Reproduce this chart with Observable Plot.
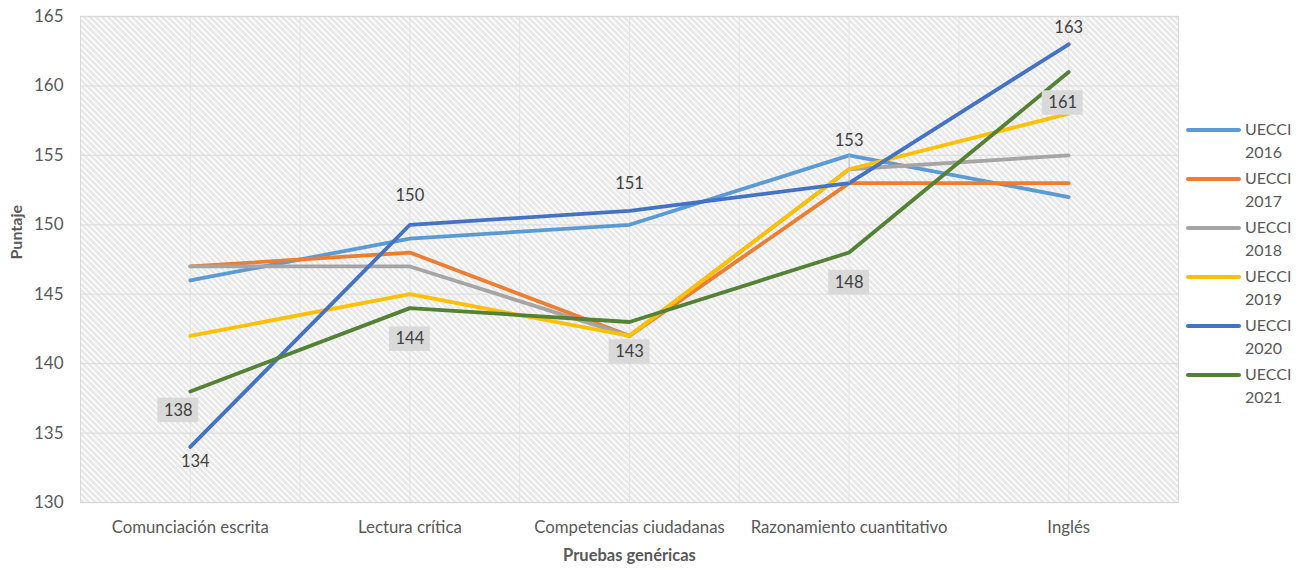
<!DOCTYPE html>
<html>
<head>
<meta charset="utf-8">
<script src="https://cdn.jsdelivr.net/npm/d3@7"></script>
<script src="https://cdn.jsdelivr.net/npm/@observablehq/plot@0.6"></script>
<style>
  body { margin: 0; background: #fff; }
  #wrap { position: relative; width: 1300px; height: 570px; font-family: Lato, "Open Sans", sans-serif; }
  #legend { position: absolute; left: 1186px; top: 117px; }
  .item { position: relative; height: 49px; }
  .item .sw { position: absolute; left: 0; top: 11px; width: 55px; height: 4px; border-radius: 2px; }
  .item .lab { position: absolute; left: 59px; top: 0; font-size: 16px; line-height: 23px; color: #595959; }
</style>
</head>
<body>
<div id="wrap"></div>
<script>
const categories = ["Comunciación escrita", "Lectura crítica", "Competencias ciudadanas", "Razonamiento cuantitativo", "Inglés"];
const seriesNames = ["UECCI 2016", "UECCI 2017", "UECCI 2018", "UECCI 2019", "UECCI 2020", "UECCI 2021"];
const v2016 = [146, 149, 150, 155, 152];
const v2017 = [147, 148, 142, 153, 153];
const v2018 = [147, 147, 142, 154, 155];
const v2019 = [142, 145, 142, 154, 158];
const v2020 = [134, 150, 151, 153, 163];
const v2021 = [138, 144, 143, 148, 161];
const seriesColors = ["#5B9BD5", "#ED7D31", "#A5A5A5", "#FFC000", "#4472C4", "#548235"];
const yTicks = [130, 135, 140, 145, 150, 155, 160, 165];

const allValues = [v2016, v2017, v2018, v2019, v2020, v2021];
const rows = [];
seriesNames.forEach((s, k) => allValues[k].forEach((v, i) => rows.push({s, i, v})));

// label placement (pixels) for the two labelled series
const blueOff = [[5, 15], [0, -29], [0, -27], [0, -42], [0, -17]];
const greenOff = [[-12, 19], [0, 31], [0, 30], [0, 30], [-6, 31]];

const labelMarks = [];
v2020.forEach((v, i) => {
  const [dx, dy] = blueOff[i];
  labelMarks.push(Plot.text([{i, v}], {x: "i", y: "v", text: d => String(d.v), dx, dy, fontSize: 16.5, fill: "#404040"}));
});
// leader line for 153
labelMarks.push(Plot.ruleX([{i: 3, v: v2020[3]}], {x: "i", y1: "v", y2: d => d.v + 29 / (486 / 35) - 0.1, stroke: "#bfbfbf", strokeWidth: 1}));
v2021.forEach((v, i) => {
  const [dx, dy] = greenOff[i];
  labelMarks.push(Plot.rect([{i, v}], {x1: d => d.i - 0.093, x2: d => d.i + 0.093, y1: d => d.v - 0.88, y2: d => d.v + 0.88, dx, dy, fill: "#d9d9d9"}));
  labelMarks.push(Plot.text([{i, v}], {x: "i", y: "v", text: d => String(d.v), dx, dy, fontSize: 16.5, fill: "#404040"}));
});

const chart = Plot.plot({
  width: 1300,
  height: 570,
  marginLeft: 80,
  marginRight: 122,
  marginTop: 16,
  marginBottom: 68,
  style: {fontFamily: "Lato, 'Open Sans', sans-serif", color: "#595959", background: "#fff"},
  x: {type: "linear", domain: [-0.5, 4.5]},
  y: {domain: [130, 165]},
  color: {domain: seriesNames, range: seriesColors},
  marks: [
    Plot.frame({fill: "url(#hatch)", stroke: "none"}),
    Plot.ruleX(d3.range(-0.5, 4.51, 0.5), {stroke: "#e3e3e3", strokeWidth: 1}),
    Plot.ruleY(yTicks, {stroke: "#dedede", strokeWidth: 1.3}),
    Plot.frame({stroke: "#d9d9d9", strokeWidth: 1}),
    Plot.axisY({ticks: yTicks, tickSize: 0, tickPadding: 17, fontSize: 17, label: null}),
    Plot.axisX({ticks: [0, 1, 2, 3, 4], tickFormat: i => categories[i], tickSize: 0, tickPadding: 19, fontSize: 16.8, label: null}),
    Plot.text(["Pruebas genéricas"], {frameAnchor: "bottom", dy: 58, fontSize: 16.5, fontWeight: "bold", fill: "#595959"}),
    Plot.text(["Puntaje"], {frameAnchor: "left", rotate: -90, dx: -64, fontSize: 16, fontWeight: "bold", fill: "#595959"}),
    Plot.line(rows, {x: "i", y: "v", z: "s", stroke: "s", strokeWidth: 3.8, strokeLinejoin: "round", strokeLinecap: "round"}),
    ...labelMarks
  ]
});

// hatch pattern definition: dotted downward diagonal stripes
const ns = "http://www.w3.org/2000/svg";
const defs = document.createElementNS(ns, "defs");
let px = "";
for (let y = 0; y < 6; y++) for (let x = 0; x < 6; x++) {
  const m = ((x - y) % 6 + 6) % 6;
  if (m === 0 || m === 2) px += `<rect x="${x}" y="${y}" width="1" height="1" fill="#d2d2d2"/>`;
}
defs.innerHTML = `<pattern id="hatch" patternUnits="userSpaceOnUse" width="6" height="6"><rect width="6" height="6" fill="#ffffff"/>${px}</pattern>`;
chart.insertBefore(defs, chart.firstChild);

const wrap = document.getElementById("wrap");
wrap.appendChild(chart);

const legend = document.createElement("div");
legend.id = "legend";
seriesNames.forEach((s, k) => {
  const item = document.createElement("div");
  item.className = "item";
  const [a, b] = s.split(" ");
  item.innerHTML = `<div class="sw" style="background:${seriesColors[k]}"></div><div class="lab">${a}<br>${b}</div>`;
  legend.appendChild(item);
});
wrap.appendChild(legend);
</script>
</body>
</html>
